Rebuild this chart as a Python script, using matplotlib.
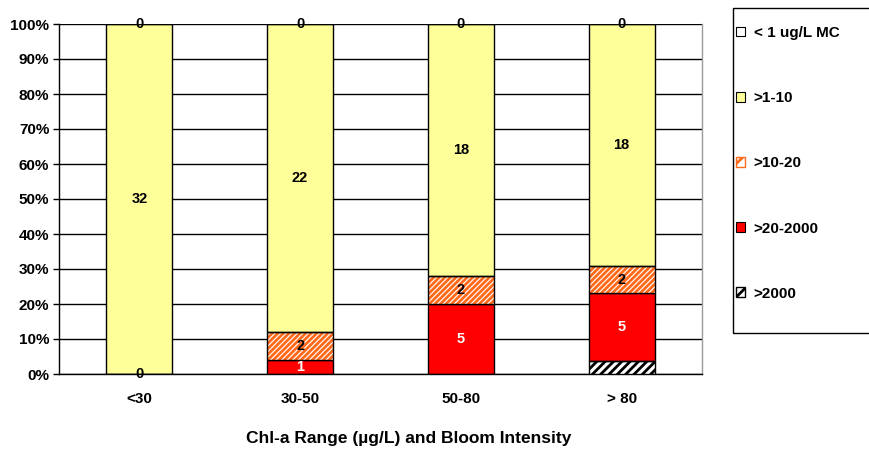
import matplotlib
matplotlib.use("Agg")
import matplotlib.pyplot as plt
from matplotlib.patches import Patch, Rectangle
import numpy as np

plt.rcParams['font.family'] = ['Liberation Sans', 'DejaVu Sans']
plt.rcParams['font.weight'] = 'bold'
plt.rcParams['hatch.linewidth'] = 2.0

categories = ['<30', '30-50', '50-80', '> 80']
# stacked bottom -> top
s_gt2000 = [0, 0, 0, 1]
s_20_2000 = [0, 1, 5, 5]
s_10_20 = [0, 2, 2, 2]
s_1_10 = [32, 22, 18, 18]
s_lt1 = [0, 0, 0, 0]

series_names = ['>2000', '>20-2000', '>10-20', '>1-10', '< 1 ug/L MC']
series = [s_gt2000, s_20_2000, s_10_20, s_1_10, s_lt1]
# which labels are shown (per series, per category)
show_label = [
    [False, False, False, False],
    [False, True, True, True],
    [False, True, True, True],
    [True, True, True, True],
    [True, True, True, True],
]
label_zero_bottom = [True, False, False, False]  # "0" shown at base of <30 bar

data = np.array(series, dtype=float)
totals = data.sum(axis=0)
pct = data / totals * 100

fig = plt.figure(figsize=(8.7, 4.54), dpi=100)
ax = fig.add_axes([59/870, (454-374)/454, (702-59)/870, 350/454])

x = np.arange(len(categories))
width = 0.41

styles = [
    dict(face='white', hatch='////', hcolor='black'),
    dict(face='#FF0000', hatch=None, hcolor=None),
    dict(face='white', hatch='//////', hcolor='#FF6A1A'),
    dict(face='#FFFF99', hatch=None, hcolor=None),
    dict(face='white', hatch=None, hcolor=None),
]

bottom = np.zeros(len(categories))
for i, (vals, st) in enumerate(zip(pct, styles)):
    if st['hatch']:
        ax.bar(x, vals, width, bottom=bottom, color=st['face'], hatch=st['hatch'],
               edgecolor=st['hcolor'], linewidth=0, zorder=3)
        ax.bar(x, vals, width, bottom=bottom, color='none', edgecolor='black',
               linewidth=1, zorder=4)
    else:
        ax.bar(x, vals, width, bottom=bottom, color=st['face'], edgecolor='black',
               linewidth=1, zorder=3)
    for j in range(len(categories)):
        if show_label[i][j]:
            ycen = bottom[j] + vals[j] / 2
            col = 'white' if st['face'] == '#FF0000' else 'black'
            ax.text(x[j], ycen, f"{int(series[i][j])}", ha='center', va='center',
                    fontsize=10.5, fontweight='bold', color=col, zorder=6)
    bottom = bottom + vals

for j, flag in enumerate(label_zero_bottom):
    if flag:
        ax.text(x[j], 0, "0", ha='center', va='center', fontsize=10.5,
                fontweight='bold', color='black', zorder=6)

ax.set_xlim(-0.5, 3.5)
ax.set_ylim(0, 100)
ax.set_yticks(np.arange(0, 101, 10))
ax.set_yticklabels([f"{v}%" for v in range(0, 101, 10)])
ax.set_xticks(x)
ax.set_xticklabels(categories)
ax.tick_params(axis='x', length=0, pad=13, labelsize=11)
ax.tick_params(axis='y', length=4, width=1, labelsize=11, pad=3)
ax.yaxis.grid(True, color='black', linewidth=1)
ax.set_axisbelow(True)
for s in ['left', 'bottom']:
    ax.spines[s].set_color('black')
    ax.spines[s].set_linewidth(1)
ax.spines['top'].set_visible(False)
ax.spines['right'].set_color('#9A9A9A')
ax.spines['right'].set_linewidth(1)
fig.text(409/870, 1 - 438/454, 'Chl-a Range (µg/L) and Bloom Intensity',
         fontsize=12.5, fontweight='bold', ha='center', va='center')

# legend box
fig.patches.append(Rectangle((733/870, 1 - 333/454), 140/870, 325/454,
                             transform=fig.transFigure, facecolor='white',
                             edgecolor='black', linewidth=1, zorder=0))

handles = []
for name, st in zip(series_names, styles):
    if st['hatch']:
        handles.append(Patch(facecolor=st['face'], edgecolor=st['hcolor'], hatch=st['hatch'][:2], linewidth=1))
    else:
        handles.append(Patch(facecolor=st['face'], edgecolor='black', linewidth=0.8))
handles = handles[::-1]
names = series_names[::-1]
leg = fig.legend(handles, names, loc='upper left',
                 bbox_to_anchor=(736/870, 1 - 26/454),
                 frameon=False, fontsize=11,
                 handlelength=0.6, handleheight=0.6, handletextpad=0.55,
                 labelspacing=3.35, borderpad=0, borderaxespad=0)

fig.savefig('out.png', dpi=100)
